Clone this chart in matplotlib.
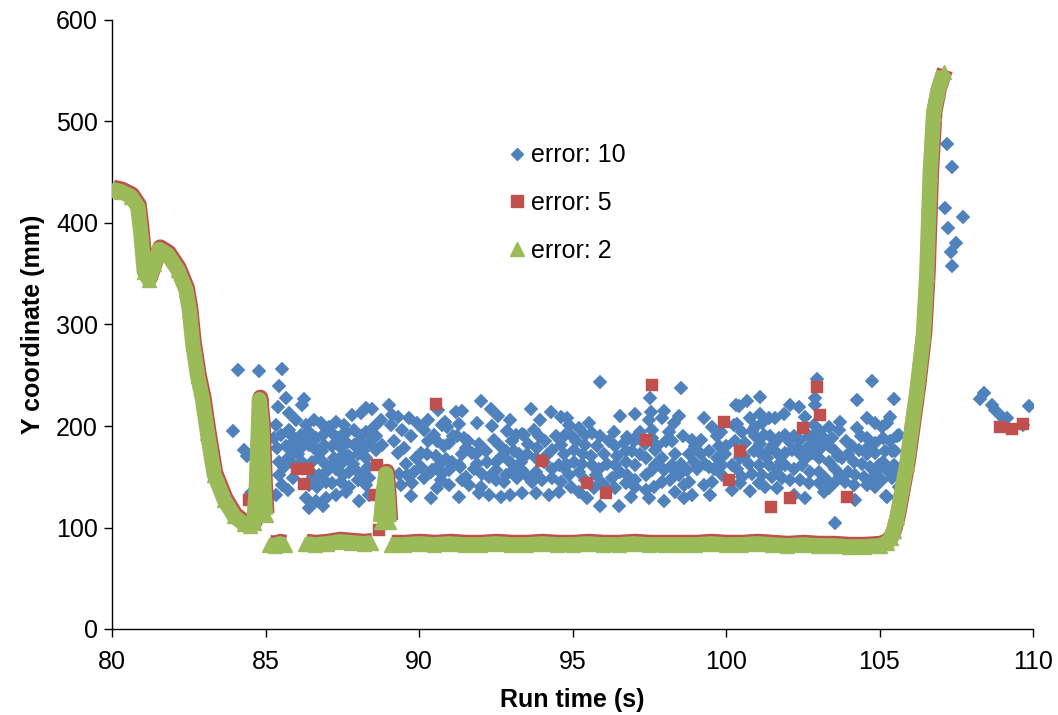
import numpy as np
import matplotlib
matplotlib.use('Agg')
import matplotlib.pyplot as plt
import matplotlib.transforms as mtransforms
from matplotlib.lines import Line2D

plt.rcParams['font.family'] = ['Liberation Sans', 'DejaVu Sans']

nan = np.nan

# ---- error: 10 (blue diamonds) ----
blue_points = [
    (84.09,255),(84.79,254),(85.53,256),(85.45,239),(85.68,228),(86.26,227),(86.18,221),(85.42,219),
    (85.77,213),(85.99,206),(86.31,201),(86.58,206),(86.80,203),(87.07,199),(87.29,204),(87.56,201),
    (87.83,211),(88.10,213),(88.27,218),(88.48,217),(88.75,206),(89.02,221),(89.08,201),(89.13,211),
    (83.93,195),(84.31,176),(84.41,170),(85.34,201),(85.28,188),(85.50,191),(85.77,196),(85.93,185),
    (86.15,191),(86.42,194),(86.64,188),(86.86,191),(86.96,198),(87.18,193),(87.45,190),(87.61,193),
    (87.89,196),(88.10,190),(88.27,194),(88.54,199),(88.81,181),(88.59,176),(88.37,183),(88.16,175),
    (87.89,181),(87.67,183),(87.40,180),(87.18,180),(86.91,181),(86.64,176),(86.42,181),(86.15,178),
    (85.88,176),(85.66,180),(85.39,178),(85.45,165),(85.72,168),(85.93,162),(86.20,165),(86.53,165),
    (86.75,168),(86.96,162),(87.24,168),(87.51,165),(87.72,170),(88.00,172),(88.27,168),(85.45,152),
    (85.88,149),(86.48,155),(86.75,152),(87.02,157),(87.29,158),(87.51,152),(87.72,155),(87.94,157),
    (88.16,153),(88.37,149),(85.55,142),(86.42,142),(86.69,140),(86.96,145),(87.18,144),(87.45,145),
    (87.72,140),(88.00,147),(88.27,142),(86.31,129),(86.64,126),(86.96,129),(87.29,132),(87.61,135),
    (88.05,126),(88.37,132),(86.42,119),(86.86,121),(85.34,132),(85.72,137),(84.52,134),
    (85.60,160),(85.85,190),(86.05,172),(86.35,186),(86.55,150),(86.85,175),(87.10,160),(87.35,188),
    (87.55,172),(87.85,163),(88.05,185),(88.35,160),(88.60,190),
    # 89 - 95
    (92.01,225),(92.33,217),(92.58,210),(91.88,203),(92.39,200),(92.98,206),(93.64,217),(94.29,214),
    (94.64,209),(93.93,206),(93.36,192),(92.88,195),(91.22,214),(91.41,215),(91.30,202),(90.85,204),
    (90.29,206),(90.63,216),(89.30,209),(89.68,208),(89.46,196),(89.95,203),(90.16,196),(90.49,191),
    (90.76,201),(90.92,199),(90.60,185),(90.98,183),(91.25,190),(91.47,188),(91.52,178),(91.74,173),
    (92.17,175),(91.90,163),(92.50,165),(92.82,175),(93.09,175),(92.71,170),(93.04,185),(93.15,191),
    (93.42,191),(93.74,196),(93.91,190),(94.12,185),(94.34,176),(94.61,181),(94.77,191),(94.72,172),
    (94.56,162),(94.34,158),(94.07,165),(93.80,168),(93.53,172),(93.31,165),(93.09,158),(92.82,152),
    (92.50,157),(92.28,150),(92.06,153),(91.79,158),(91.52,150),(91.30,162),(91.09,165),(90.87,167),
    (90.65,162),(90.43,157),(90.27,172),(90.06,173),(89.89,168),(89.57,163),(89.30,173),(89.35,153),
    (89.62,152),(89.84,155),(89.40,142),(89.78,144),(90.16,149),(90.38,155),(90.76,153),(90.98,157),
    (90.71,147),(90.60,139),(90.98,142),(91.41,147),(91.63,142),(92.01,140),(92.50,147),(92.77,145),
    (93.20,149),(93.47,152),(93.69,145),(94.01,147),(94.34,149),(94.61,145),(94.56,135),(94.23,132),
    (93.80,134),(93.36,134),(92.98,132),(92.66,130),(92.28,132),(91.95,134),(91.30,130),(90.38,129),
    (89.73,131),(93.80,155),(93.36,157),(91.85,172),(91.41,172),
    (89.20,185),(89.50,178),(89.75,190),(90.05,160),(90.30,185),(90.55,170),(90.80,180),(91.10,190),
    (91.35,160),(91.60,185),(91.95,182),(92.20,165),(92.45,186),(92.65,180),(92.95,165),(93.25,172),
    (93.55,182),(93.85,178),(94.15,170),(94.45,190),(94.70,160),
    # 95 - 100
    (95.91,243),(97.54,228),(98.52,237),(97.57,214),(97.97,215),(96.56,210),(97.05,212),(97.49,206),
    (98.46,210),(98.30,203),(98.14,194),(98.24,185),(99.28,208),(99.55,199),(99.85,194),(100.25,201),
    (100.31,221),(96.35,194),(96.78,189),(94.88,201),(95.21,198),(95.53,203),(95.42,191),(95.64,193),
    (94.99,190),(94.83,208),(95.04,176),(95.42,181),(95.80,180),(96.02,172),(96.40,180),(96.67,183),
    (96.99,185),(96.94,175),(97.21,172),(97.59,188),(97.70,176),(97.38,168),(97.92,168),(97.70,162),
    (97.05,162),(96.73,165),(96.40,162),(96.13,163),(95.86,158),(95.64,162),(95.32,163),(95.04,165),
    (94.83,162),(94.88,152),(95.21,155),(95.42,147),(95.75,152),(95.97,144),(96.29,149),(96.56,155),
    (96.78,152),(97.05,147),(97.38,152),(97.59,157),(97.97,157),(98.24,162),(98.52,163),(98.79,172),
    (99.00,180),(98.90,186),(99.17,172),(99.44,175),(99.76,180),(99.98,172),(100.20,162),(99.87,162),
    (99.60,158),(99.33,163),(99.06,158),(98.73,157),(98.46,152),(98.19,147),(97.92,145),(97.65,140),
    (97.38,137),(97.05,140),(96.73,144),(96.40,139),(96.08,140),(95.70,139),(95.21,135),(94.94,140),
    (95.48,129),(95.91,121),(96.51,121),(96.89,130),(97.49,129),(97.97,126),(98.35,135),(98.63,129),
    (98.90,132),(99.28,142),(99.55,145),(99.49,132),(99.87,152),(100.20,137),(98.63,142),(98.79,145),
    (98.30,157),(99.71,168),(97.21,194),(97.59,196),(97.92,208),
    (95.10,185),(95.35,172),(95.60,170),(95.90,190),(96.20,185),(96.45,170),(96.75,175),(97.10,190),
    (97.35,182),(97.75,180),(98.05,185),(98.35,172),(98.60,190),(98.95,165),(99.20,186),(99.45,160),
    (99.70,190),(100.00,180),
    # 100 - 106
    (102.96,246),(104.75,244),(102.91,228),(102.89,221),(104.27,226),(105.46,227),(101.12,229),(100.69,225),
    (100.41,220),(102.10,221),(102.37,219),(102.58,209),(101.61,208),(101.88,212),(101.39,208),(101.12,212),
    (100.79,208),(100.96,199),(101.17,203),(100.52,194),(100.36,202),(103.72,204),(103.67,196),(104.27,198),
    (104.59,208),(104.86,203),(105.08,199),(105.35,209),(105.24,203),(105.62,191),(105.13,188),(104.86,183),
    (104.59,188),(104.32,176),(104.59,172),(104.86,173),(105.19,175),(105.51,175),(105.46,162),(105.24,157),
    (104.97,162),(104.70,160),(104.43,163),(104.16,165),(103.99,172),(103.78,168),(103.56,175),(103.34,180),
    (103.18,188),(102.91,183),(102.69,190),(102.64,178),(102.42,186),(102.20,190),(101.93,191),(101.72,188),
    (101.44,190),(101.23,191),(100.96,190),(100.63,183),(100.90,175),(101.12,173),(101.39,176),(101.66,173),
    (101.93,173),(102.15,176),(102.42,172),(102.80,173),(103.02,168),(103.34,165),(103.56,158),(103.72,152),
    (103.99,155),(104.21,152),(104.48,150),(104.75,149),(105.08,147),(105.40,149),(105.62,140),(105.24,130),
    (104.86,140),(104.59,142),(104.16,142),(103.89,145),(103.56,145),(103.23,149),(103.02,155),(102.75,155),
    (102.48,162),(102.20,158),(101.93,162),(101.66,158),(101.39,162),(101.07,162),(100.74,163),(100.47,168),
    (100.36,158),(100.52,150),(100.85,153),(101.17,152),(101.50,150),(101.83,149),(102.10,147),(102.42,147),
    (102.69,144),(103.02,144),(103.34,139),(100.44,144),(100.79,136),(101.28,140),(101.66,139),(102.20,132),
    (102.58,129),(103.18,135),(103.56,104),(104.21,127),(101.07,144),(102.86,201),(103.07,195),(103.34,199),
    (105.57,190),(105.40,175),(105.22,131),(105.46,153),
    (100.30,185),(100.60,170),(100.85,195),(101.10,182),(101.35,168),(101.55,182),(101.80,165),(102.05,185),
    (102.30,178),(102.60,168),(102.90,192),(103.10,178),(103.45,188),(103.65,170),(103.90,185),(104.10,180),
    (104.40,190),(104.65,180),(104.90,155),(105.10,165),(105.35,185),(105.55,160),
    # after the rise
    (107.21,478),(107.36,455),(107.14,415),(107.71,406),(107.24,395),(107.48,380),(107.32,371),(107.37,358),
    (108.39,233),(108.26,227),(108.66,221),(108.77,216),(108.98,209),(109.15,208),(109.88,220),(109.69,201),
]
blue_x = [p[0] for p in blue_points]
blue_y = [p[1] for p in blue_points]

# ---- error: 5 (red squares) outliers ----
red_x = [84.45, 86.04, 86.40, 86.27, 88.62, 88.56, 88.70, 90.54, 94.02, 95.48, 96.08, 97.60, 97.41,
         99.95, 100.45, 100.09, 101.47, 102.10, 102.51, 102.96, 103.05, 103.94, 108.93, 109.31, 109.67]
red_y = [127, 158, 158, 143, 162, 132, 98, 222, 166, 144, 134, 240, 186,
         204, 175, 147, 120, 129, 198, 238, 211, 130, 199, 197, 202]

# ---- error: 2 (green triangles) track; red follows it closely ----
track_x = [80.0, 80.29, 80.62, 80.84, 80.94, 81.05, 81.2, 81.38, 81.54, 81.81, 82.14, 82.41, 82.52,
           82.63, 82.79, 82.95, 83.11, 83.33, 83.66, 83.98, 84.31, 84.5, 84.62,
           84.7, 84.8, 84.88, 84.95, 85.0, nan,
           85.1, 85.3, 85.45, 85.62, nan,
           86.3, 86.6, 87.0, 87.4, 87.8, 88.2, 88.45, nan,
           88.75, 88.84, 88.92, 88.98, 89.03, nan,
           89.08, 89.5, 90.0, 90.5, 91.0, 91.5, 92.0, 92.5, 93.0, 93.5, 94.0, 94.5, 95.0, 95.5,
           96.0, 96.5, 97.0, 97.5, 98.0, 98.5, 99.0, 99.5, 100.0, 100.5, 101.0, 101.5, 102.0,
           102.5, 103.0, 103.5, 104.0, 104.5, 105.0, 105.25, 105.37, 105.46, 105.57, 105.89,
           106.22, 106.43, 106.54, 106.65, 106.76, 106.9, 107.1]
track_y = [433, 431, 426, 416, 390, 352, 344, 360, 374, 369, 354, 334, 314,
           281, 249, 226, 193, 152, 127, 111, 103, 101, 104,
           140, 226, 200, 140, 112, nan,
           83, 82, 84, 83, nan,
           84, 83, 84, 86, 85, 84, 85, nan,
           105, 135, 153, 130, 105, nan,
           83, 83, 84, 83, 84, 83, 83, 84, 83, 83, 84, 83, 83, 84,
           83, 83, 84, 83, 83, 83, 83, 84, 83, 83, 84, 83, 82,
           83, 82, 82, 81, 81, 82, 85, 90, 97, 110, 163,
           235, 290, 350, 449, 508, 530, 549]

c_blue = '#4F81BD'
c_red = '#C0504D'
c_green = '#9BBB59'

FS = 18

fig = plt.figure(figsize=(10.58, 7.15), dpi=100)
ax = fig.add_axes([112/1058, 1 - 629/715, (1033-112)/1058, (629-20)/715])

ax.plot(blue_x, blue_y, ls='none', marker='D', ms=6.9, mfc=c_blue, mec=c_blue, mew=0.3, zorder=2)

off = mtransforms.offset_copy(ax.transData, fig=fig, x=1, y=2, units='dots')
ax.plot(track_x, track_y, color=c_red, lw=11.5, solid_joinstyle='round', solid_capstyle='butt',
        transform=off, zorder=3)
ax.plot(red_x, red_y, ls='none', marker='s', ms=8.7, mfc=c_red, mec=c_red, mew=0.3, zorder=3)

ax.plot(track_x, track_y, color=c_green, lw=11, solid_joinstyle='round', solid_capstyle='butt', zorder=4)
ax.plot(track_x, track_y, ls='none', marker='^', ms=10, mfc=c_green, mec=c_green, zorder=4)

ax.set_xlim(80, 110)
ax.set_ylim(0, 600)
ax.set_xticks(range(80, 111, 5))
ax.set_yticks(range(0, 601, 100))
for s in ['top', 'right']:
    ax.spines[s].set_visible(False)
for s in ['left', 'bottom']:
    ax.spines[s].set_linewidth(1.0)
ax.tick_params(direction='out', length=6, width=1, labelsize=FS)
ax.tick_params(axis='x', pad=9)
ax.tick_params(axis='y', pad=4)
ax.set_xlabel('Run time (s)', fontsize=FS, fontweight='bold', labelpad=10)
ax.set_ylabel('Y coordinate (mm)', fontsize=FS, fontweight='bold', labelpad=8)

handles = [Line2D([], [], ls='none', marker='D', ms=6.5, color=c_blue),
           Line2D([], [], ls='none', marker='s', ms=9, color=c_red),
           Line2D([], [], ls='none', marker='^', ms=9.5, color=c_green)]
ax.legend(handles, ['error: 10', 'error: 5', 'error: 2'], loc='upper left',
          bbox_to_anchor=(0.418, 0.818), frameon=False, fontsize=FS,
          handlelength=0.6, handletextpad=0.25, labelspacing=0.95, borderpad=0)

fig.savefig('out.png', dpi=100)
